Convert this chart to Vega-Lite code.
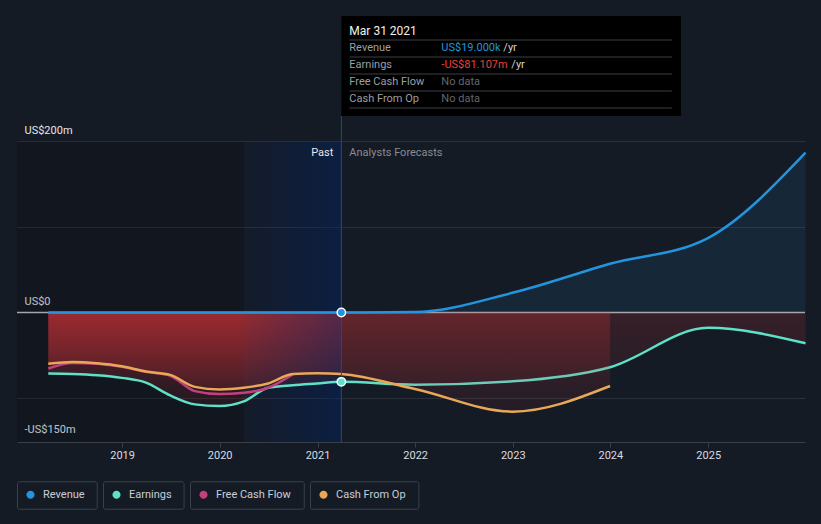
{
  "$schema": "https://vega.github.io/schema/vega-lite/v6.json",
  "width": 788,
  "height": 442,
  "autosize": {"type": "none"},
  "padding": {"left": 17, "top": 0, "right": 16, "bottom": 82},
  "background": "#151b25",
  "config": {"view": {"stroke": null}, "font": "Roboto"},
  "datasets": {
    "fin": [
      {"date": "2018-03-31", "series": "Revenue", "value": 0},
      {"date": "2018-09-30", "series": "Revenue", "value": 0},
      {"date": "2019-03-31", "series": "Revenue", "value": 0},
      {"date": "2019-09-30", "series": "Revenue", "value": 0},
      {"date": "2020-03-31", "series": "Revenue", "value": 0},
      {"date": "2020-09-30", "series": "Revenue", "value": 0},
      {"date": "2021-03-31", "series": "Revenue", "value": 0.019},
      {"date": "2021-12-31", "series": "Revenue", "value": 0.5},
      {"date": "2022-12-31", "series": "Revenue", "value": 23},
      {"date": "2023-12-31", "series": "Revenue", "value": 57},
      {"date": "2024-12-31", "series": "Revenue", "value": 87},
      {"date": "2025-12-31", "series": "Revenue", "value": 187},
      {"date": "2018-03-31", "series": "Earnings", "value": -71.5},
      {"date": "2018-06-30", "series": "Earnings", "value": -72},
      {"date": "2018-09-30", "series": "Earnings", "value": -73.5},
      {"date": "2018-12-31", "series": "Earnings", "value": -76.5},
      {"date": "2019-03-31", "series": "Earnings", "value": -82},
      {"date": "2019-06-30", "series": "Earnings", "value": -97},
      {"date": "2019-09-30", "series": "Earnings", "value": -107.5},
      {"date": "2019-12-31", "series": "Earnings", "value": -109.5},
      {"date": "2020-03-31", "series": "Earnings", "value": -104},
      {"date": "2020-06-30", "series": "Earnings", "value": -88},
      {"date": "2020-09-30", "series": "Earnings", "value": -85},
      {"date": "2020-12-31", "series": "Earnings", "value": -83},
      {"date": "2021-03-31", "series": "Earnings", "value": -81.107},
      {"date": "2021-12-31", "series": "Earnings", "value": -84.5},
      {"date": "2022-12-31", "series": "Earnings", "value": -80.5},
      {"date": "2023-12-31", "series": "Earnings", "value": -64},
      {"date": "2024-12-31", "series": "Earnings", "value": -18},
      {"date": "2025-12-31", "series": "Earnings", "value": -36},
      {"date": "2018-03-31", "series": "Free Cash Flow", "value": -65.5},
      {"date": "2018-06-30", "series": "Free Cash Flow", "value": -59},
      {"date": "2018-09-30", "series": "Free Cash Flow", "value": -60},
      {"date": "2018-12-31", "series": "Free Cash Flow", "value": -63.5},
      {"date": "2019-03-31", "series": "Free Cash Flow", "value": -69.5},
      {"date": "2019-06-30", "series": "Free Cash Flow", "value": -74},
      {"date": "2019-09-30", "series": "Free Cash Flow", "value": -92},
      {"date": "2019-12-31", "series": "Free Cash Flow", "value": -95.5},
      {"date": "2020-03-31", "series": "Free Cash Flow", "value": -94},
      {"date": "2020-06-30", "series": "Free Cash Flow", "value": -88},
      {"date": "2020-09-30", "series": "Free Cash Flow", "value": -72.5},
      {"date": "2018-03-31", "series": "Cash From Op", "value": -60},
      {"date": "2018-06-30", "series": "Cash From Op", "value": -58},
      {"date": "2018-09-30", "series": "Cash From Op", "value": -59.5},
      {"date": "2018-12-31", "series": "Cash From Op", "value": -63},
      {"date": "2019-03-31", "series": "Cash From Op", "value": -69},
      {"date": "2019-06-30", "series": "Cash From Op", "value": -73},
      {"date": "2019-09-30", "series": "Cash From Op", "value": -87},
      {"date": "2019-12-31", "series": "Cash From Op", "value": -90},
      {"date": "2020-03-31", "series": "Cash From Op", "value": -88},
      {"date": "2020-06-30", "series": "Cash From Op", "value": -83},
      {"date": "2020-09-30", "series": "Cash From Op", "value": -72},
      {"date": "2020-12-31", "series": "Cash From Op", "value": -71},
      {"date": "2021-03-31", "series": "Cash From Op", "value": -72},
      {"date": "2021-12-31", "series": "Cash From Op", "value": -89.5},
      {"date": "2022-12-31", "series": "Cash From Op", "value": -116},
      {"date": "2023-12-31", "series": "Cash From Op", "value": -86}
    ],
    "tip": [
      {"row": 0, "label": "Mar 31 2021", "val": ""},
      {"row": 1, "label": "Revenue", "val": "US$19.000k"},
      {"row": 2, "label": "Earnings", "val": "-US$81.107m"},
      {"row": 3, "label": "Free Cash Flow", "val": "No data"},
      {"row": 4, "label": "Cash From Op", "val": "No data"}
    ]
  },
  "layer": [
    {
      "data": {"name": "fin"},
      "layer": [
        {
          "data": {"values": [{}]},
          "mark": {"type": "rect", "color": "#000000", "opacity": 0.16},
          "encoding": {
            "x": {
              "datum": {"year": 2017, "month": 12, "date": 4},
              "type": "temporal",
              "scale": {"domain": [{"year": 2017, "month": 12, "date": 4}, {"year": 2025, "month": 12, "date": 29}]},
              "axis": {
                "values": [
                  {"year": 2019, "month": 1, "date": 1},
                  {"year": 2020, "month": 1, "date": 1},
                  {"year": 2021, "month": 1, "date": 1},
                  {"year": 2022, "month": 1, "date": 1},
                  {"year": 2023, "month": 1, "date": 1},
                  {"year": 2024, "month": 1, "date": 1},
                  {"year": 2025, "month": 1, "date": 1}
                ],
                "format": "%Y",
                "title": null,
                "grid": false,
                "labelColor": "#d9dce0",
                "labelFontSize": 11,
                "labelPadding": 2,
                "domainColor": "#3a404a",
                "tickColor": "#3a404a",
                "tickSize": 5
              }
            },
            "x2": {"datum": {"year": 2020, "month": 3, "date": 31}},
            "y": {
              "datum": 200,
              "type": "quantitative",
              "scale": {"domain": [-151.5, 365.5], "nice": false, "zero": false},
              "axis": {
                "values": [-150, -100, 0, 100, 200],
                "labelExpr": "datum.value == 200 ? 'US$200m' : datum.value == 0 ? 'US$0' : datum.value == -150 ? '-US$150m' : ''",
                "title": null,
                "domain": false,
                "ticks": false,
                "tickSize": 0,
                "labelAlign": "left",
                "labelBaseline": "alphabetic",
                "labelPadding": -7,
                "labelOffset": -8,
                "labelColor": "#e4e6ea",
                "labelFontSize": 11,
                "grid": true,
                "gridColor": {"condition": {"test": "datum.value == -150 || datum.value == 0", "value": "transparent"}, "value": "#2a3039"}
              }
            },
            "y2": {"datum": -151.5}
          }
        },
        {
          "transform": [{"filter": "datum.series == 'Revenue' && time(datum.date) >= time('2021-03-31')"}],
          "mark": {"type": "area", "interpolate": "monotone", "color": "#2394df", "opacity": 0.11},
          "encoding": {
            "x": {"field": "date", "type": "temporal"},
            "y": {"field": "value", "type": "quantitative"},
            "y2": {"datum": 0}
          }
        },
        {
          "transform": [{"filter": "datum.series == 'Earnings' && time(datum.date) <= time('2021-03-31')"}],
          "mark": {"type": "area", "interpolate": "monotone", "color": {"gradient": "linear", "x1": 0, "y1": 0, "x2": 0, "y2": 1, "stops": [{"offset": 0, "color": "rgba(224,52,56,0.42)"}, {"offset": 1, "color": "rgba(224,52,56,0.08)"}]}},
          "encoding": {
            "x": {"field": "date", "type": "temporal"},
            "y": {"field": "value", "type": "quantitative"},
            "y2": {"datum": 0}
          }
        },
        {
          "transform": [{"filter": "datum.series == 'Earnings' && time(datum.date) >= time('2021-03-31')"}],
          "mark": {"type": "area", "interpolate": "monotone", "color": {"gradient": "linear", "x1": 0, "y1": 0, "x2": 0, "y2": 1, "stops": [{"offset": 0, "color": "rgba(224,52,56,0.17)"}, {"offset": 1, "color": "rgba(224,52,56,0.07)"}]}},
          "encoding": {
            "x": {"field": "date", "type": "temporal"},
            "y": {"field": "value", "type": "quantitative"},
            "y2": {"datum": 0}
          }
        },
        {
          "transform": [{"filter": "datum.series == 'Cash From Op' && time(datum.date) <= time('2021-03-31')"}],
          "mark": {"type": "area", "interpolate": "monotone", "color": {"gradient": "linear", "x1": 0, "y1": 0, "x2": 0, "y2": 1, "stops": [{"offset": 0, "color": "rgba(224,52,56,0.42)"}, {"offset": 1, "color": "rgba(224,52,56,0.12)"}]}},
          "encoding": {
            "x": {"field": "date", "type": "temporal"},
            "y": {"field": "value", "type": "quantitative"},
            "y2": {"datum": 0}
          }
        },
        {
          "data": {"values": [{}]},
          "mark": {"type": "rect", "color": {"gradient": "linear", "x1": 0, "y1": 0, "x2": 1, "y2": 0, "stops": [{"offset": 0, "color": "rgba(0,36,100,0.06)"}, {"offset": 1, "color": "rgba(0,36,100,0.45)"}]}},
          "encoding": {
            "x": {"datum": {"year": 2020, "month": 3, "date": 31}, "type": "temporal"},
            "x2": {"datum": {"year": 2021, "month": 3, "date": 31}},
            "y": {"datum": 200, "type": "quantitative"},
            "y2": {"datum": -151.5}
          }
        },
        {
          "data": {"values": [{}]},
          "mark": {"type": "rule", "color": "#a3a6ab", "strokeWidth": 1.5},
          "encoding": {"y": {"datum": 0, "type": "quantitative"}}
        },
        {
          "transform": [{"filter": "datum.series == 'Earnings'"}],
          "mark": {"type": "line", "interpolate": "monotone", "strokeWidth": 2.5},
          "encoding": {
            "x": {"field": "date", "type": "temporal"},
            "y": {"field": "value", "type": "quantitative"},
            "color": {
              "field": "series",
              "type": "nominal",
              "scale": {"domain": ["Revenue", "Earnings", "Free Cash Flow", "Cash From Op"], "range": ["#2394df", "#5de1c9", "#c2407f", "#e9a857"]},
              "legend": {
                "orient": "bottom",
                "direction": "horizontal",
                "title": null,
                "offset": 21,
                "padding": 0,
                "columnPadding": 5,
                "symbolType": "M -1 -1 M 1 1 M -0.3 0 A 0.3 0.3 0 1 0 0.3 0 A 0.3 0.3 0 1 0 -0.3 0 Z",
                "symbolSize": 729,
                "symbolStrokeWidth": 0,
                "labelOffset": -1,
                "labelFontSize": 11,
                "labelColor": "#c9ced6",
                "encode": {
                  "symbols": {"update": {
                    "fill": {"scale": "color", "field": "value"},
                    "opacity": {"value": 1},
                    "shape": {"signal": "'M -1 -1 M ' + (datum.label == 'Revenue' ? 4.87 : datum.label == 'Earnings' ? 4.93 : datum.label == 'Free Cash Flow' ? 7.39 : 6.99) + ' 1 M -0.3 0 A 0.3 0.3 0 1 0 0.3 0 A 0.3 0.3 0 1 0 -0.3 0 Z'"}
                  }},
                  "entries": {"update": {
                    "stroke": {"value": "#3b414b"},
                    "strokeWidth": {"value": 1},
                    "cornerRadius": {"value": 2},
                    "fill": {"value": "transparent"}
                  }}
                }
              }
            }
          }
        },
        {
          "transform": [{"filter": "datum.series == 'Cash From Op' && time(datum.date) >= time('2021-03-31')"}],
          "mark": {"type": "area", "interpolate": "monotone", "color": {"gradient": "linear", "x1": 0, "y1": 0, "x2": 0, "y2": 1, "stops": [{"offset": 0, "color": "rgba(224,52,56,0.26)"}, {"offset": 1, "color": "rgba(224,52,56,0.06)"}]}},
          "encoding": {
            "x": {"field": "date", "type": "temporal"},
            "y": {"field": "value", "type": "quantitative"},
            "y2": {"datum": 0}
          }
        },
        {
          "transform": [{"filter": "datum.series != 'Earnings'"}],
          "mark": {"type": "line", "interpolate": "monotone", "strokeWidth": 2.5},
          "encoding": {
            "x": {"field": "date", "type": "temporal"},
            "y": {"field": "value", "type": "quantitative"},
            "color": {"field": "series", "type": "nominal"},
            "order": {"field": "date"}
          }
        },
        {
          "data": {"values": [{}]},
          "mark": {"type": "rule", "color": "#274a78", "strokeWidth": 1},
          "encoding": {
            "x": {"datum": {"year": 2021, "month": 3, "date": 31}, "type": "temporal"},
            "y": {"datum": 230, "type": "quantitative"},
            "y2": {"datum": -151.5}
          }
        },
        {
          "transform": [{"filter": "time(datum.date) == time('2021-03-31') && (datum.series == 'Revenue' || datum.series == 'Earnings')"}],
          "mark": {"type": "point", "filled": true, "size": 70, "stroke": "#ffffff", "strokeWidth": 1.5, "opacity": 1},
          "encoding": {
            "x": {"field": "date", "type": "temporal"},
            "y": {"field": "value", "type": "quantitative"},
            "fill": {"field": "series", "type": "nominal", "scale": {"domain": ["Revenue", "Earnings"], "range": ["#2394df", "#5de1c9"]}, "legend": null}
          }
        },
        {
          "data": {"values": [{}]},
          "mark": {"type": "text", "text": "Past", "align": "right", "baseline": "middle", "dx": -8, "fontSize": 11, "color": "#e8e8e8"},
          "encoding": {
            "x": {"datum": {"year": 2021, "month": 3, "date": 31}, "type": "temporal"},
            "y": {"datum": 186.5, "type": "quantitative"}
          }
        },
        {
          "data": {"values": [{}]},
          "mark": {"type": "text", "text": "Analysts Forecasts", "align": "left", "baseline": "middle", "dx": 8, "fontSize": 11, "color": "#878c94"},
          "encoding": {
            "x": {"datum": {"year": 2021, "month": 3, "date": 31}, "type": "temporal"},
            "y": {"datum": 186.5, "type": "quantitative"}
          }
        }
      ]
    },
    {
      "data": {"name": "tip"},
      "layer": [
        {
          "data": {"values": [{}]},
          "mark": {"type": "rect", "color": "#000000", "opacity": 1},
          "encoding": {
            "x": {"datum": {"year": 2021, "month": 3, "date": 31}, "type": "temporal"},
            "x2": {"datum": {"year": 2024, "month": 9, "date": 21}},
            "y": {"datum": -0.88, "type": "quantitative", "scale": {"domain": [-1.824, 24.176], "reverse": true, "nice": false, "zero": false}, "axis": null},
            "y2": {"datum": 5.0}
          }
        },
        {
          "mark": {"type": "rule", "color": "#3b3e44", "strokeWidth": 1, "yOffset": 9},
          "encoding": {
            "x": {"datum": {"year": 2021, "month": 4, "date": 30}, "type": "temporal"},
            "x2": {"datum": {"year": 2024, "month": 8, "date": 18}},
            "y": {"field": "row", "type": "quantitative"}
          }
        },
        {
          "mark": {"type": "text", "align": "left", "baseline": "middle", "dx": 8, "fontSize": 11},
          "encoding": {
            "x": {"datum": {"year": 2021, "month": 3, "date": 31}, "type": "temporal"},
            "y": {"field": "row", "type": "quantitative"},
            "text": {"field": "label"},
            "color": {"condition": {"test": "datum.row == 0", "value": "#f2f2f2"}, "value": "#9a9fa6"},
            "size": {"condition": {"test": "datum.row == 0", "value": 12}, "value": 11}
          }
        },
        {
          "mark": {"type": "text", "align": "left", "baseline": "middle", "dx": 100, "fontSize": 11},
          "encoding": {
            "x": {"datum": {"year": 2021, "month": 3, "date": 31}, "type": "temporal"},
            "y": {"field": "row", "type": "quantitative"},
            "text": {"field": "val"},
            "color": {"condition": [{"test": "datum.row == 1", "value": "#2394df"}, {"test": "datum.row == 2", "value": "#e8413e"}], "value": "#62666c"}
          }
        },
        {
          "transform": [{"filter": "datum.row == 1"}],
          "mark": {"type": "text", "align": "left", "baseline": "middle", "dx": 162, "fontSize": 11, "text": "/yr", "color": "#d0d2d6"},
          "encoding": {
            "x": {"datum": {"year": 2021, "month": 3, "date": 31}, "type": "temporal"},
            "y": {"field": "row", "type": "quantitative"}
          }
        },
        {
          "transform": [{"filter": "datum.row == 2"}],
          "mark": {"type": "text", "align": "left", "baseline": "middle", "dx": 170, "fontSize": 11, "text": "/yr", "color": "#d0d2d6"},
          "encoding": {
            "x": {"datum": {"year": 2021, "month": 3, "date": 31}, "type": "temporal"},
            "y": {"field": "row", "type": "quantitative"}
          }
        }
      ]
    }
  ],
  "resolve": {"scale": {"y": "independent"}}
}
